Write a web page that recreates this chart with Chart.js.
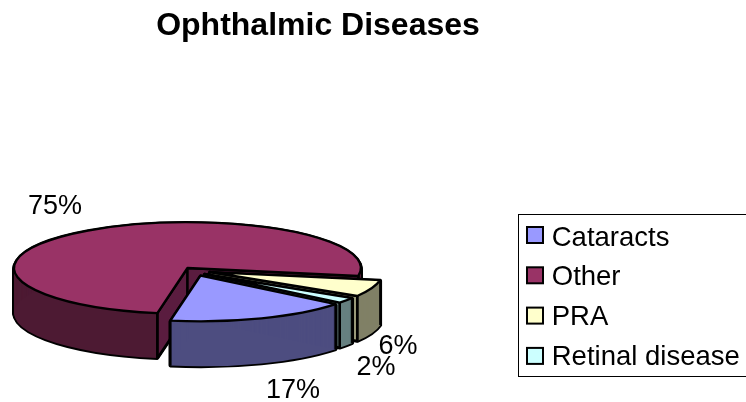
<!DOCTYPE html>
<html>
<head>
<meta charset="utf-8">
<style>
  html, body { margin: 0; padding: 0; background: #fff; overflow: hidden; }
  canvas { display: block; }
</style>
<script src="https://cdn.jsdelivr.net/npm/chart.js@4"></script>
</head>
<body>
<canvas id="pie3d" width="746" height="402"></canvas>
<script>
const categories = ["Cataracts", "Other", "PRA", "Retinal disease"];
const shares = [17, 75, 6, 2];
const topColors = ["#9999ff", "#993366", "#ffffcc", "#ccffff"];
const wallColors = ["#4d4d80", "#4d1a33", "#808066", "#668080"];
const faceColors = ["#5c5c99", "#5a1c3f", "#999979", "#7f9c9c"];

// how far each slice is pulled out of the pie on screen, back slices get painted first
const explodeX = [13, 0, 22, 17];
const explodeY = [7.5, 0, 4, 6];
const paintOrder = [1, 2, 3, 0];

// where the flattened pie sits on the page
const CX = 187.5;
const CY = 268;
const TILT = 0.264;
const DEPTH = 45;

const labelSpots = [[293, 391], [55, 207], [398, 347], [376, 368]];
const FONT = "Liberation Sans, Arial, sans-serif";

function rimPoint(x, y, r, angle) {
  return [x + Math.cos(angle) * r, y + Math.sin(angle) * r * TILT];
}

function wedge(ctx, x, y, arc) {
  ctx.beginPath();
  ctx.moveTo(x, y);
  ctx.ellipse(x, y, arc.outerRadius, arc.outerRadius * TILT, 0, arc.startAngle, arc.endAngle);
  ctx.closePath();
}

function drawFace(ctx, x, y, arc, angle, color) {
  const p = rimPoint(x, y, arc.outerRadius, angle);
  ctx.beginPath();
  ctx.moveTo(x, y);
  ctx.lineTo(p[0], p[1]);
  ctx.lineTo(p[0], p[1] + DEPTH);
  ctx.lineTo(x, y + DEPTH);
  ctx.closePath();
  ctx.fillStyle = color;
  ctx.fill();
  ctx.stroke();
}

function drawSlice(ctx, arc, i) {
  const x = CX + explodeX[i];
  const y = CY + explodeY[i];
  ctx.save();
  ctx.lineJoin = "round";
  ctx.strokeStyle = "#000";

  // wall: black silhouette first, then the shade on top of it
  ctx.lineWidth = 3.6;
  for (let d = 1; d <= DEPTH; d++) {
    wedge(ctx, x, y + d, arc);
    ctx.stroke();
  }
  ctx.fillStyle = wallColors[i];
  for (let d = 1; d <= DEPTH; d++) {
    wedge(ctx, x, y + d, arc);
    ctx.fill();
  }

  ctx.lineWidth = 2.4;
  // cut faces, only those turned towards the viewer
  if (Math.sin(arc.startAngle - Math.PI / 2) > 0) drawFace(ctx, x, y, arc, arc.startAngle, faceColors[i]);
  if (Math.sin(arc.endAngle + Math.PI / 2) > 0) drawFace(ctx, x, y, arc, arc.endAngle, faceColors[i]);

  // rim corners
  [arc.startAngle, arc.endAngle].forEach((a) => {
    const p = rimPoint(x, y, arc.outerRadius, a);
    if (Math.sin(a) > 0) {
      ctx.beginPath();
      ctx.moveTo(p[0], p[1]);
      ctx.lineTo(p[0], p[1] + DEPTH);
      ctx.stroke();
    }
  });

  // top face goes through the arc element, squashed
  ctx.save();
  ctx.translate(x, y);
  ctx.scale(1, TILT);
  ctx.translate(-arc.x, -arc.y);
  arc.draw(ctx);
  ctx.restore();
  wedge(ctx, x, y, arc);
  ctx.stroke();
  ctx.restore();
}

const pie3d = {
  id: "pie3d",
  afterLayout(chart) {
    // title and legend do not sit where the layout wants them
    chart.titleBlock.left = 0;
    chart.titleBlock.right = 636;
    const legend = chart.legend;
    legend.left = 527 - legend.options.labels.padding;
    legend.right = legend.left + legend.width;
    legend.top = 212;
    legend.bottom = 402; // the last row wraps to a new column if this is too tight
  },
  beforeDraw(chart) {
    const ctx = chart.ctx;
    ctx.save();
    ctx.strokeStyle = "#000";
    ctx.lineWidth = 1;
    ctx.strokeRect(518.5, 214.5, 240, 162);
    ctx.restore();
  },
  beforeDatasetDraw(chart) {
    const ctx = chart.ctx;
    const arcs = chart.getDatasetMeta(0).data;
    paintOrder.forEach((i) => drawSlice(ctx, arcs[i], i));
    return false;
  },
  afterDraw(chart) {
    const ctx = chart.ctx;
    ctx.save();
    ctx.font = "27px " + FONT;
    ctx.fillStyle = "#000";
    ctx.textAlign = "center";
    ctx.textBaseline = "middle";
    shares.forEach((v, i) => {
      ctx.fillText(v + "%", labelSpots[i][0], labelSpots[i][1]);
    });
    // legend swatches are wider than the gap the legend leaves for them
    ctx.lineWidth = 2;
    ctx.strokeStyle = "#000";
    categories.forEach((c, i) => {
      ctx.fillStyle = topColors[i];
      ctx.fillRect(527, 227 + i * 40.3, 16, 16);
      ctx.strokeRect(527, 227 + i * 40.3, 16, 16);
    });
    ctx.restore();
  },
};

new Chart(document.getElementById("pie3d"), {
  type: "pie",
  data: {
    labels: categories,
    datasets: [
      {
        data: shares,
        backgroundColor: topColors,
        borderWidth: 0,
      },
    ],
  },
  options: {
    responsive: false,
    animation: false,
    rotation: 128.8,
    radius: 173.5,
    plugins: {
      tooltip: { enabled: false },
      title: {
        display: true,
        text: "Ophthalmic Diseases",
        color: "#000",
        font: { family: FONT, size: 32, weight: "bold" },
        padding: { top: 7, bottom: 3 },
      },
      legend: {
        display: true,
        position: "right",
        align: "start",
        labels: {
          color: "#000",
          font: { family: FONT, size: 27.5 },
          boxWidth: 11,
          boxHeight: 8,
          padding: 12.3,
        },
      },
    },
  },
  plugins: [pie3d],
});
</script>
</body>
</html>
